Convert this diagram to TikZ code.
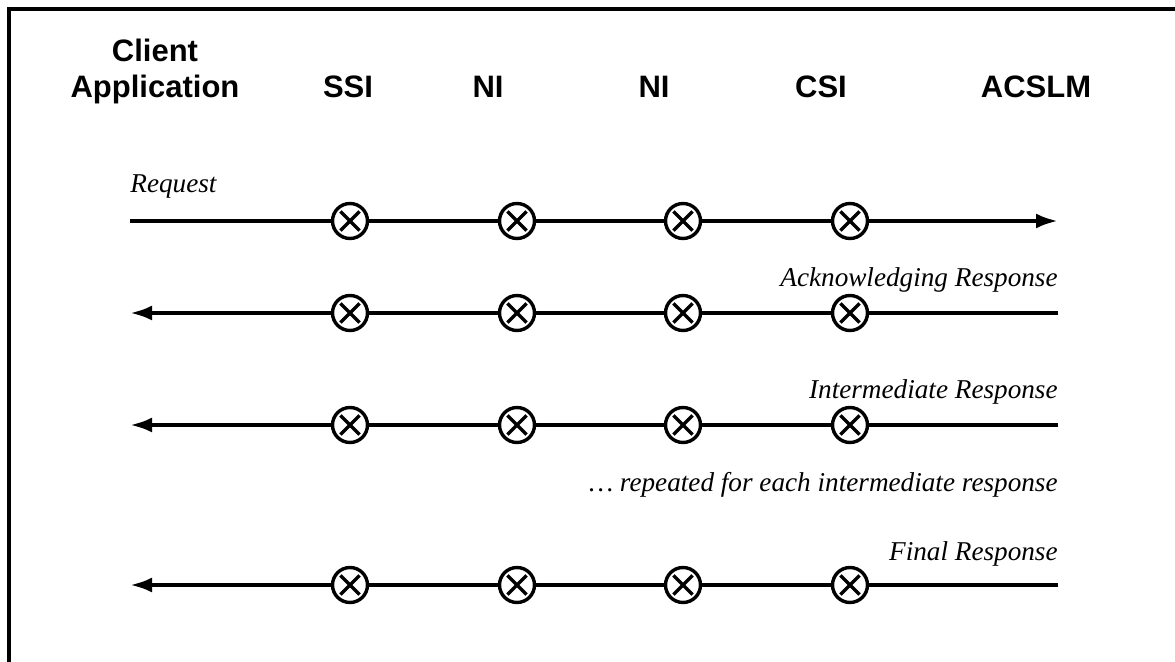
\documentclass[tikz,border=0pt]{standalone}
\usepackage{fontspec}
\setmainfont{Liberation Serif}
\newfontfamily\headfont{Liberation Sans}
\usetikzlibrary{arrows.meta}

\tikzset{
  head/.style={font=\headfont\bfseries\fontsize{15.5}{18}\selectfont, anchor=base, inner sep=0pt},
  note/.style={font=\itshape\fontsize{13.6}{16}\selectfont, inner sep=0pt},
  relay/.style={circle, draw, line width=1.7pt, minimum size=17.5pt, inner sep=0pt,
    path picture={\draw[line width=1.7pt] (path picture bounding box.center)
      +(45:6.8pt) -- +(225:6.8pt) +(135:6.8pt) -- +(-45:6.8pt);}},
  msg/.style={line width=2pt, -{Latex[length=11pt,width=7.5pt]}},
  frame/.style={line width=2pt}
}

\begin{document}
\begin{tikzpicture}[x=0.5pt,y=-0.5pt]
\useasboundingbox (0,0) rectangle (1175,662);
\draw[frame] (9,662) -- (9,9) -- (1175,9);

% column heads
\node[head] (client) at (155,62) {Client};
\node[head] (app) at (155,98) {Application};
\node[head] (ssi) at (348,98) {SSI};
\node[head] (ni1) at (488,98) {NI};
\node[head] (ni2) at (654,98) {NI};
\node[head] (csi) at (821,98) {CSI};
\node[head] (acslm) at (1036,98) {ACSLM};

% request
\coordinate (a0) at (130,221);
\node[relay] (a1) at (350,221) {};
\node[relay] (a2) at (517,221) {};
\node[relay] (a3) at (683,221) {};
\node[relay] (a4) at (850,221) {};
\coordinate (a5) at (1058,221);
\draw[msg] (a0) -- (a1) -- (a2) -- (a3) -- (a4) -- (a5);
\node[note, anchor=base west] (req) at (130,193) {Request};

% acknowledging response
\coordinate (b0) at (130,313);
\node[relay] (b1) at (350,313) {};
\node[relay] (b2) at (517,313) {};
\node[relay] (b3) at (683,313) {};
\node[relay] (b4) at (850,313) {};
\coordinate (b5) at (1058,313);
\draw[msg] (b5) -- (b4) -- (b3) -- (b2) -- (b1) -- (b0);
\node[note, anchor=base east] (ack) at (1058,287) {Acknowledging Response};

% intermediate response
\coordinate (c0) at (130,425);
\node[relay] (c1) at (350,425) {};
\node[relay] (c2) at (517,425) {};
\node[relay] (c3) at (683,425) {};
\node[relay] (c4) at (850,425) {};
\coordinate (c5) at (1058,425);
\draw[msg] (c5) -- (c4) -- (c3) -- (c2) -- (c1) -- (c0);
\node[note, anchor=base east] (inter) at (1058,399) {Intermediate Response};
\node[note, anchor=base east] (again) at (1058,492) {\dots\ repeated for each intermediate response};

% final response
\coordinate (d0) at (130,585);
\node[relay] (d1) at (350,585) {};
\node[relay] (d2) at (517,585) {};
\node[relay] (d3) at (683,585) {};
\node[relay] (d4) at (850,585) {};
\coordinate (d5) at (1058,585);
\draw[msg] (d5) -- (d4) -- (d3) -- (d2) -- (d1) -- (d0);
\node[note, anchor=base east] (fin) at (1058,561) {Final Response};
\end{tikzpicture}
\end{document}
